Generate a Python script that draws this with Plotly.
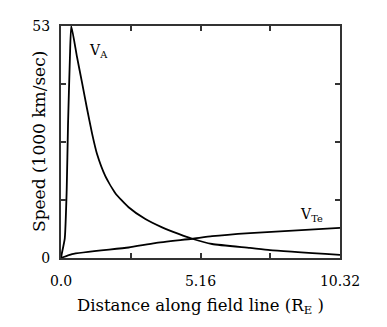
import plotly.graph_objects as go

# values
va_dist = [0.0, 0.03, 0.14, 0.21, 0.26, 0.33, 0.38, 0.59, 0.78, 0.96, 1.15, 1.33, 1.64,
           2.01, 2.50, 3.12, 3.74, 4.35, 4.85, 5.59, 6.99, 7.73, 10.32]
va_speed = [0.0, 1.0, 4.5, 15.4, 30.6, 45.8, 53.0, 46.0, 40.0, 34.2, 28.4, 23.8, 18.7,
            14.8, 11.6, 8.9, 7.0, 5.5, 4.4, 3.2, 2.3, 1.8, 0.7]

vte_dist = [0.0, 0.41, 2.50, 3.48, 4.85, 5.59, 6.99, 10.32]
vte_speed = [0.0, 0.9, 2.4, 3.4, 4.4, 5.0, 5.7, 6.9]

x_ticks = [0.0, 2.58, 5.16, 7.74, 10.32]
x_labels = ["0.0", "", "5.16", "", "10.32"]
y_ticks = [0, 13.25, 26.5, 39.75, 53]
y_labels = ["0", "", "", "", "53"]

serif = "DejaVu Serif"

fig = go.Figure()
fig.add_trace(go.Scatter(x=va_dist, y=va_speed, mode="lines",
                         line=dict(color="black", width=1.8, shape="spline", smoothing=0.5)))
fig.add_trace(go.Scatter(x=vte_dist, y=vte_speed, mode="lines",
                         line=dict(color="black", width=1.8, shape="spline", smoothing=0.5)))

fig.add_annotation(x=1.4, y=47.3, text="V<sub>A</sub>", showarrow=False,
                   font=dict(family=serif, size=14, color="black"))
fig.add_annotation(x=9.25, y=9.8, text="V<sub>Te</sub>", showarrow=False,
                   font=dict(family=serif, size=14, color="black"))

# axis titles placed by hand, the y one sits in the tick label column
fig.add_annotation(xref="paper", yref="paper", x=0, y=0.5, xshift=-22, xanchor="center",
                   yanchor="middle", textangle=-90,
                   text="Speed (1000 km/sec)", showarrow=False,
                   font=dict(family=serif, size=17, color="black"))
fig.add_annotation(xref="paper", yref="paper", x=0.5, y=0, yshift=-48, xanchor="center",
                   yanchor="middle",
                   text="Distance along field line (R<sub>E</sub> )", showarrow=False,
                   font=dict(family=serif, size=16.5, color="black"))

axis_style = dict(showgrid=False, zeroline=False, showline=True, linecolor="#333",
                  linewidth=2, mirror="ticks", ticks="inside", ticklen=5,
                  tickcolor="#333", tickwidth=1.5, automargin=False,
                  tickfont=dict(family=serif, size=14, color="black"))

fig.update_xaxes(range=[0, 10.32], tickmode="array", tickvals=x_ticks, ticktext=x_labels,
                 ticklabelstandoff=9, **axis_style)
fig.update_yaxes(range=[0, 53], tickmode="array", tickvals=y_ticks, ticktext=y_labels,
                 ticklabelstandoff=6, **axis_style)

# page body adds an 8px offset, so the margins are shifted to compensate
fig.update_layout(width=387, height=327, showlegend=False,
                  margin=dict(l=53, r=55, t=18, b=77),
                  plot_bgcolor="white", paper_bgcolor="white")

fig.write_html("out.html")
